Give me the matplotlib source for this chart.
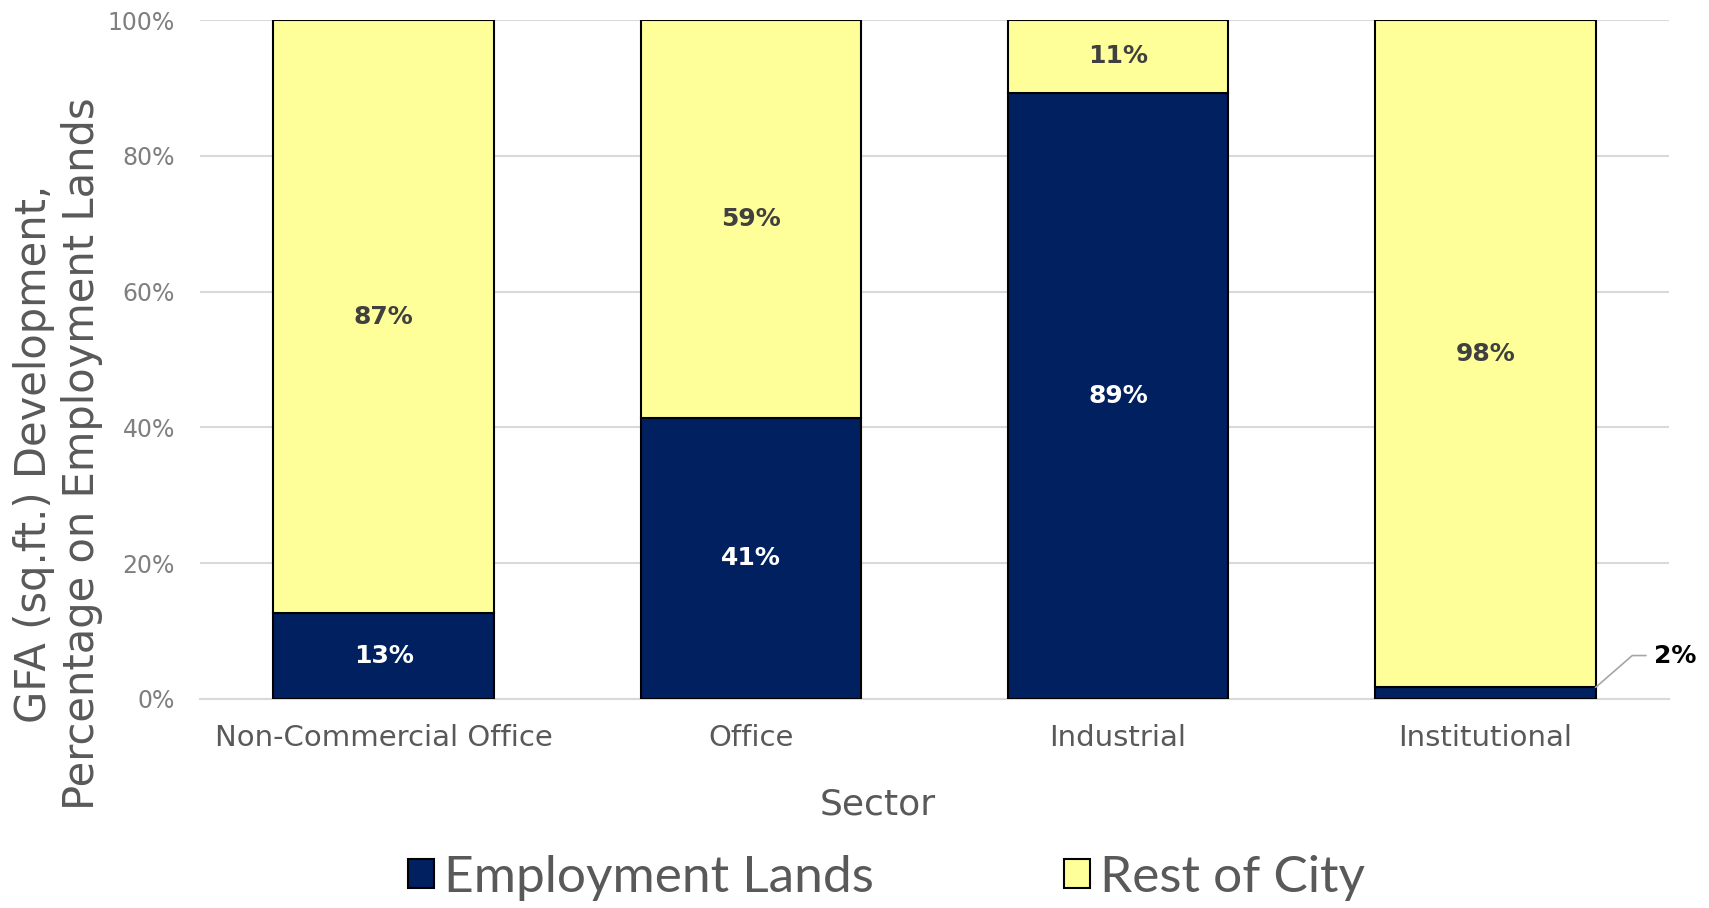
import matplotlib.pyplot as plt
import numpy as np

plt.rcParams['font.family'] = ['DejaVu Sans']

# data
sectors = ['Non-Commercial Office', 'Office', 'Industrial', 'Institutional']
employment_lands = [12.6, 41.4, 89.3, 1.7]
rest_of_city = [87.4, 58.6, 10.7, 98.3]
y_ticks = [0, 20, 40, 60, 80, 100]

navy = '#002060'
yellow = '#FFFF99'
grey_text = '#595959'

fig = plt.figure(figsize=(17.09, 9.08), dpi=100)
ax = fig.add_axes([200 / 1709, 1 - 699 / 908, 1469 / 1709, 679 / 908])

x = np.arange(len(sectors))
emp = np.array(employment_lands)
rest = np.array(rest_of_city)

b1 = ax.bar(x, emp, width=0.6, color=navy, edgecolor='black', linewidth=1.5,
            label='Employment Lands', zorder=3)
b2 = ax.bar(x, rest, width=0.6, bottom=emp, color=yellow, edgecolor='black',
            linewidth=1.5, label='Rest of City', zorder=3)

# data labels
for i in range(len(sectors)):
    if emp[i] > 5:
        ax.text(x[i], emp[i] / 2, f'{emp[i]:.0f}%', ha='center', va='center',
                color='white', fontsize=18, fontweight='bold', zorder=4)
    ax.text(x[i], emp[i] + rest[i] / 2, f'{rest[i]:.0f}%', ha='center',
            va='center', color='#404040', fontsize=18, fontweight='bold', zorder=4)

# small segment gets a leader line
i = 3
ax.annotate(f'{emp[i]:.0f}%', xy=(x[i] + 0.3, emp[i]), xytext=(x[i] + 0.46, 6.4),
            ha='left', va='center', fontsize=18, fontweight='bold', color='black',
            arrowprops=dict(arrowstyle='-', color='#a6a6a6', lw=1.2,
                            connectionstyle='angle,angleA=0,angleB=41,rad=0',
                            shrinkA=4, shrinkB=0),
            annotation_clip=False, zorder=4)

ax.set_xlim(-0.5, len(sectors) - 0.5)
ax.set_ylim(0, 100)
ax.set_yticks(y_ticks)
ax.set_yticklabels([f'{t}%' for t in y_ticks])
ax.set_xticks(x)
ax.set_xticklabels(sectors)

ax.grid(axis='y', color='#d9d9d9', linewidth=1.5, zorder=0)
ax.set_axisbelow(True)
for s in ['top', 'right', 'left']:
    ax.spines[s].set_visible(False)
ax.spines['bottom'].set_color('#d9d9d9')
ax.spines['bottom'].set_linewidth(1.5)

ax.tick_params(axis='y', length=0, labelsize=17, labelcolor='#7f7f7f', pad=18)
ax.tick_params(axis='x', length=0, labelsize=21, labelcolor=grey_text, pad=18)

ax.set_xlabel('Sector', fontsize=26, color=grey_text)
ax.xaxis.set_label_coords(0.4615, -0.156)
ax.xaxis.label.set_va('center')

ax.set_ylabel('GFA (sq.ft.) Development,\nPercentage on Employment Lands',
              fontsize=30, color=grey_text, linespacing=1.2)
ax.yaxis.set_label_coords(-0.0967, 0.361)
ax.yaxis.label.set_va('center')

fig.legend(handles=[b1, b2], loc='center', bbox_to_anchor=(0.519, 0.033),
           ncol=2, frameon=False, prop={'family': 'Lato', 'size': 37},
           labelcolor=grey_text, handlelength=0.5, handleheight=0.5,
           handletextpad=0.2, columnspacing=3.7)

fig.savefig('out.png', dpi=100)
